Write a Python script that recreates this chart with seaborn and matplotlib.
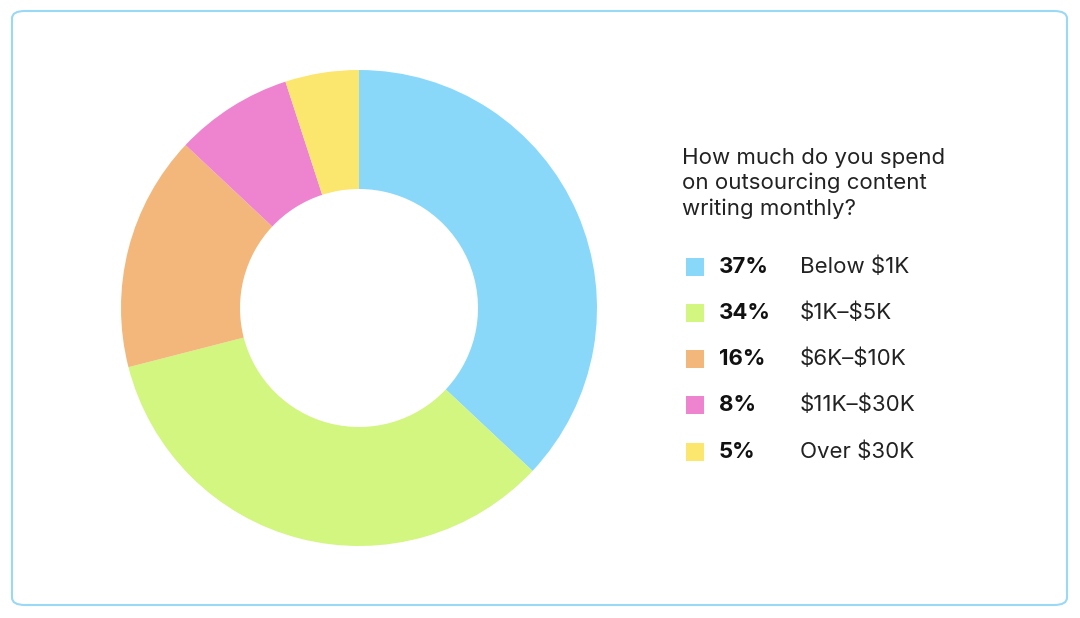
import matplotlib
matplotlib.use("Agg")
import matplotlib.pyplot as plt
import seaborn as sns
from matplotlib.patches import FancyBboxPatch

sns.set_theme(style="white")
plt.rcParams['font.family'] = ['Inter', 'DejaVu Sans']
plt.rcParams['text.parse_math'] = False

labels = ['Below $1K', '$1K\u2013$5K', '$6K\u2013$10K', '$11K\u2013$30K', 'Over $30K']
shares = [37, 34, 16, 8, 5]
colors = sns.color_palette(['#8ad8f9', '#d2f67f', '#f3b77b', '#ee84cf', '#fbe66e'])
title = 'How much do you spend\non outsourcing content\nwriting monthly?'

W, H = 1080, 618
fig = plt.figure(figsize=(W / 100, H / 100), dpi=100)

# rounded frame
frame = FancyBboxPatch((12 / W, 13 / H), 1055 / W, 594 / H,
                       boxstyle="round,pad=0,rounding_size=0.012",
                       transform=fig.transFigure, fill=False,
                       edgecolor='#9ad9f6', linewidth=1.5)
fig.patches.append(frame)

# donut
cx, cy, r = 359, 308, 238
ax = fig.add_axes([(cx - r) / W, (H - cy - r) / H, 2 * r / W, 2 * r / H])
ax.pie(shares, colors=colors, startangle=90, counterclock=False,
       wedgeprops=dict(width=0.5, edgecolor='none'))
ax.set_xlim(-1, 1)
ax.set_ylim(-1, 1)
ax.set_aspect('equal')
ax.axis('off')

def px(x, y):
    return x / W, 1 - y / H

fig.text(*px(682, 148), title, fontsize=16, color='#222222',
         va='top', ha='left', linespacing=1.3)

rows_y = [267, 313, 359, 405, 452]
for y, lab, s, c in zip(rows_y, labels, shares, colors):
    sq = plt.Rectangle(px(686, y + 9), 18 / W, 18 / H, transform=fig.transFigure,
                       color=c, linewidth=0)
    fig.patches.append(sq)
    fig.text(*px(719, y), f'{s}%', fontsize=16, fontweight='bold',
             color='#111111', va='center', ha='left')
    fig.text(*px(800, y), lab, fontsize=16, color='#222222',
             va='center', ha='left')

fig.savefig('out.png', dpi=100)
